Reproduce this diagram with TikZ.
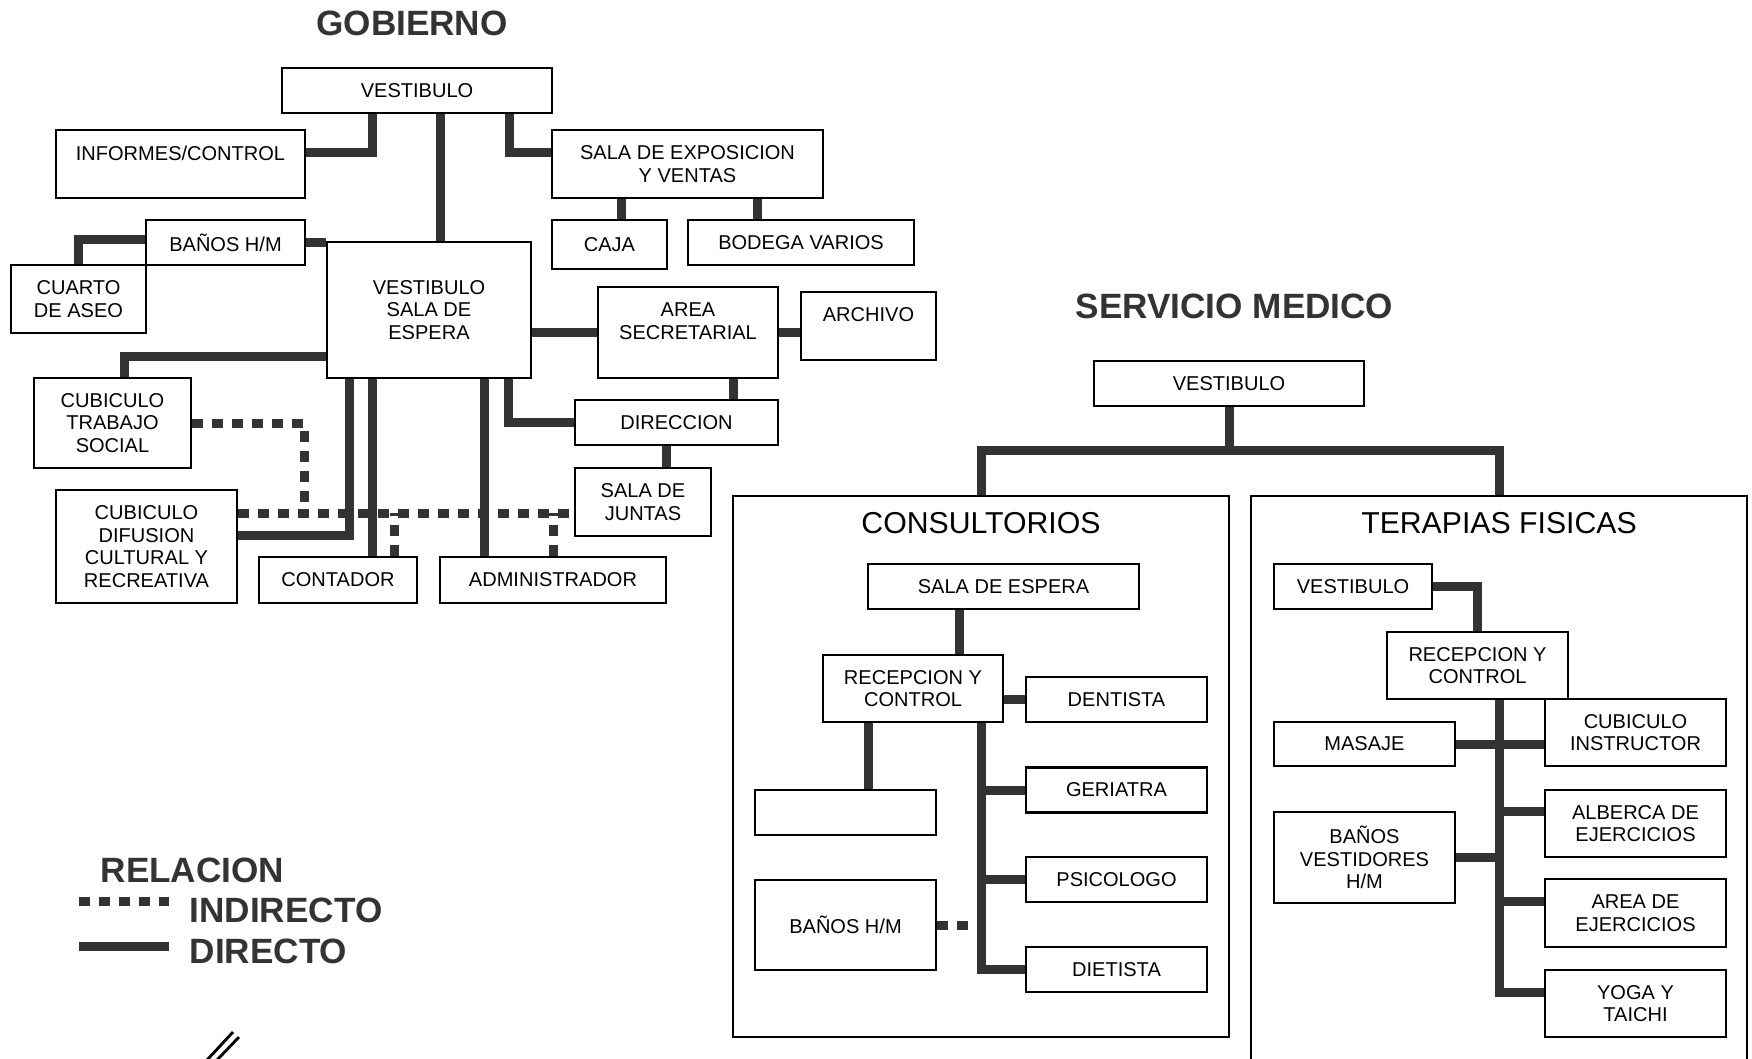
\documentclass[tikz,border=0pt]{standalone}
\usepackage{fontspec}
\setmainfont{Liberation Sans}
\usepackage{tikz}
\definecolor{gris}{HTML}{333333}

\begin{document}
\begin{tikzpicture}[
        y=-1cm,
        recinto/.style={draw, line width=0.6pt, align=center, inner sep=0pt, font=\fontsize{5.7}{6.4}\selectfont},
        marco/.style={draw, line width=0.6pt, inner sep=0pt},
        titulo/.style={font=\fontsize{10}{12}\selectfont\bfseries, text=gris, inner sep=0pt},
        subtitulo/.style={font=\fontsize{8.6}{10}\selectfont, inner sep=0pt},
        directo/.style={line width=0.09cm, draw=gris},
        indirecto/.style={line width=0.09cm, draw=gris, dash pattern=on 0.11cm off 0.09cm}
      ]
      \useasboundingbox (0,0) rectangle (17.52,10.58);

      % Gobierno
      \node[titulo] (gobierno) at (4.12, 0.235) {GOBIERNO};
      \node[recinto, minimum width=2.70cm, minimum height=0.45cm] (vestG) at (4.17, 0.905) {VESTIBULO};
      \node[recinto, minimum width=2.49cm, minimum height=0.68cm] (informes) at (1.805, 1.64) {INFORMES/CONTROL\\~};
      \node[recinto, minimum width=2.71cm, minimum height=0.68cm] (expo) at (6.875, 1.64) {SALA DE EXPOSICION\\Y VENTAS};
      \node[recinto, minimum width=1.15cm, minimum height=0.49cm] (cajaG) at (6.095, 2.445) {CAJA};
      \node[recinto, minimum width=2.26cm, minimum height=0.45cm] (bodega) at (8.01, 2.425) {BODEGA VARIOS};
      \node[recinto, minimum width=1.59cm, minimum height=0.45cm] (banosG) at (2.255, 2.425) {BAÑOS H/M};
      \node[recinto, minimum width=1.35cm, minimum height=0.68cm] (aseo) at (0.785, 2.99) {CUARTO\\DE ASEO};
      \node[recinto, minimum width=2.04cm, minimum height=1.36cm] (espera) at (4.29, 3.10) {VESTIBULO\\SALA DE\\ESPERA};
      \node[recinto, minimum width=1.80cm, minimum height=0.91cm] (secretarial) at (6.88, 3.325) {AREA\\SECRETARIAL\\~};
      \node[recinto, minimum width=1.35cm, minimum height=0.68cm] (archivo) at (8.685, 3.26) {ARCHIVO\\~};
      \node[recinto, minimum width=1.57cm, minimum height=0.90cm] (social) at (1.125, 4.23) {CUBICULO\\TRABAJO\\SOCIAL};
      \node[recinto, minimum width=2.03cm, minimum height=0.45cm] (direccion) at (6.765, 4.225) {DIRECCION};
      \node[recinto, minimum width=1.36cm, minimum height=0.68cm] (juntas) at (6.43, 5.02) {SALA DE\\JUNTAS};
      \node[recinto, minimum width=1.81cm, minimum height=1.13cm] (difusion) at (1.465, 5.465) {CUBICULO\\DIFUSION\\CULTURAL Y\\RECREATIVA};
      \node[recinto, minimum width=1.58cm, minimum height=0.46cm] (contador) at (3.38, 5.80) {CONTADOR};
      \node[recinto, minimum width=2.26cm, minimum height=0.46cm] (admin) at (5.53, 5.80) {ADMINISTRADOR};

      % Relaciones directas
      \draw[directo] ([xshift=-0.45cm]vestG.south) |- ([yshift=0.12cm]informes.east);
      \draw[directo] ([xshift=0.23cm]vestG.south) -- ([xshift=0.23cm]vestG.south |- espera.north);
      \draw[directo] ([xshift=0.92cm]vestG.south) |- ([yshift=0.12cm]expo.west);
      \draw[directo] ([xshift=0.12cm]cajaG.north) -- ([xshift=0.12cm]cajaG.north |- expo.south);
      \draw[directo] ([xshift=-0.44cm]bodega.north) -- ([xshift=-0.44cm]bodega.north |- expo.south);
      \draw[directo] (banosG.east) -- (banosG.east -| espera.west);
      \draw[directo] ([yshift=0.03cm]banosG.west) -| (aseo.north);
      \draw[directo] ([yshift=-0.46cm]espera.west) -| ([xshift=0.12cm]social.north);
      \draw[directo] (secretarial.west -| espera.east) -- (secretarial.west);
      \draw[directo] (secretarial.east) -- (secretarial.east -| archivo.west);
      \draw[directo] ([xshift=0.45cm]secretarial.south) -- ([xshift=0.45cm]secretarial.south |- direccion.north);
      \draw[directo] ([xshift=0.23cm]juntas.north) -- ([xshift=0.23cm]juntas.north |- direccion.south);
      \draw[directo] ([xshift=0.79cm]espera.south) |- (direccion.west);
      \draw[directo] ([xshift=-0.80cm]espera.south) |- ([yshift=0.11cm]difusion.east);
      \draw[directo] ([xshift=0.34cm]contador.north) -- ([xshift=0.34cm]contador.north |- espera.south);
      \draw[directo] ([xshift=-0.685cm]admin.north) -- ([xshift=-0.685cm]admin.north |- espera.south);

      % Relaciones indirectas
      \coordinate (cruce) at (3.04, 5.13);
      \draw[indirecto] (social.east) -| (cruce);
      \draw[indirecto] (cruce -| difusion.east) -- (cruce -| juntas.west);
      \draw[indirecto] ([xshift=0.56cm]contador.north) -- ([xshift=0.56cm]contador.north |- cruce);
      \draw[indirecto] (admin.north) -- (admin.north |- cruce);

      % Simbologia
      \node[titulo, anchor=west] (relacion) at (1.00, 8.70) {RELACION};
      \node[titulo, anchor=west] (indirectoL) at (1.89, 9.10) {INDIRECTO};
      \node[titulo, anchor=west] (directoL) at (1.89, 9.51) {DIRECTO};
      \draw[indirecto] (0.79, 9.01) -- (1.69, 9.01);
      \draw[directo] (0.79, 9.46) -- (1.69, 9.46);
      \draw[line width=0.8pt] (2.07, 10.60) -- (2.33, 10.32);
      \draw[line width=0.8pt] (2.17, 10.60) -- (2.39, 10.37);

      % Servicio medico
      \node[titulo] (servicio) at (12.345, 3.06) {SERVICIO MEDICO};
      \node[recinto, minimum width=2.70cm, minimum height=0.45cm] (vestS) at (12.29, 3.835) {VESTIBULO};
      \node[marco, minimum width=4.96cm, minimum height=5.41cm] (consultorios) at (9.81, 7.665) {};
      \node[marco, minimum width=4.96cm, minimum height=6.00cm] (terapias) at (14.99, 7.96) {};
      \node[subtitulo] (tituloC) at (9.81, 5.23) {CONSULTORIOS};
      \node[subtitulo] (tituloT) at (14.99, 5.23) {TERAPIAS FISICAS};

      \coordinate (ramal) at (12.29, 4.50);
      \draw[directo] (vestS.south) -- (ramal);
      \draw[directo] (consultorios.north) |- (ramal) -| (terapias.north);

      % Consultorios
      \node[recinto, minimum width=2.71cm, minimum height=0.45cm] (esperaC) at (10.035, 5.865) {SALA DE ESPERA};
      \node[recinto, minimum width=1.80cm, minimum height=0.67cm] (recepC) at (9.13, 6.885) {RECEPCION Y\\CONTROL};
      \node[recinto, minimum width=1.81cm, minimum height=0.45cm] (dentista) at (11.165, 6.995) {DENTISTA};
      \node[recinto, minimum width=1.81cm, minimum height=0.45cm] (vacio) at (8.455, 8.125) {};
      \node[recinto, minimum width=1.81cm, minimum height=0.45cm] (geriatra) at (11.165, 7.90) {GERIATRA};
      \node[recinto, minimum width=1.81cm, minimum height=0.45cm] (psicologo) at (11.165, 8.795) {PSICOLOGO};
      \node[recinto, minimum width=1.81cm, minimum height=0.90cm] (banosC) at (8.455, 9.25) {BAÑOS H/M};
      \node[recinto, minimum width=1.81cm, minimum height=0.45cm] (dietista) at (11.165, 9.695) {DIETISTA};

      \coordinate (busC) at ([xshift=0.685cm]recepC.south);
      \draw[directo] ([xshift=-0.445cm]esperaC.south) -- ([xshift=-0.445cm]esperaC.south |- recepC.north);
      \draw[directo] (recepC.east |- dentista.west) -- (dentista.west);
      \draw[directo] ([xshift=-0.45cm]recepC.south) -- ([xshift=-0.45cm]recepC.south |- vacio.north);
      \draw[directo] (busC) |- (dietista.west);
      \draw[directo] (busC |- geriatra.west) -- (geriatra.west);
      \draw[directo] (busC |- psicologo.west) -- (psicologo.west);
      \draw[indirecto] (banosC.east) -- (banosC.east -| busC);

      % Terapias fisicas
      \node[recinto, minimum width=1.58cm, minimum height=0.45cm] (vestT) at (13.53, 5.865) {VESTIBULO};
      \node[recinto, minimum width=1.81cm, minimum height=0.67cm] (recepT) at (14.775, 6.655) {RECEPCION Y\\CONTROL};
      \node[recinto, minimum width=1.81cm, minimum height=0.44cm] (masaje) at (13.645, 7.44) {MASAJE};
      \node[recinto, minimum width=1.81cm, minimum height=0.67cm] (instructor) at (16.355, 7.325) {CUBICULO\\INSTRUCTOR};
      \node[recinto, minimum width=1.81cm, minimum height=0.91cm] (banosT) at (13.645, 8.575) {BAÑOS\\VESTIDORES\\H/M};
      \node[recinto, minimum width=1.81cm, minimum height=0.67cm] (alberca) at (16.355, 8.235) {ALBERCA DE\\EJERCICIOS};
      \node[recinto, minimum width=1.81cm, minimum height=0.68cm] (ejercicios) at (16.355, 9.13) {AREA DE\\EJERCICIOS};
      \node[recinto, minimum width=1.81cm, minimum height=0.67cm] (yoga) at (16.355, 10.035) {YOGA Y\\TAICHI};

      \coordinate (busT) at ([xshift=0.22cm]recepT.south);
      \draw[directo] (vestT.east) -| (recepT.north);
      \draw[directo] (busT) |- ([yshift=0.11cm]yoga.west);
      \draw[directo] (masaje.east) -- (masaje.east -| instructor.west);
      \draw[directo] (busT |- banosT.east) -- (banosT.east);
      \draw[directo] (busT |- alberca.west) ++(0,-0.12) -- ([yshift=0.12cm]alberca.west);
      \draw[directo] (busT |- ejercicios.west) ++(0,-0.12) -- ([yshift=0.12cm]ejercicios.west);
\end{tikzpicture}
\end{document}
